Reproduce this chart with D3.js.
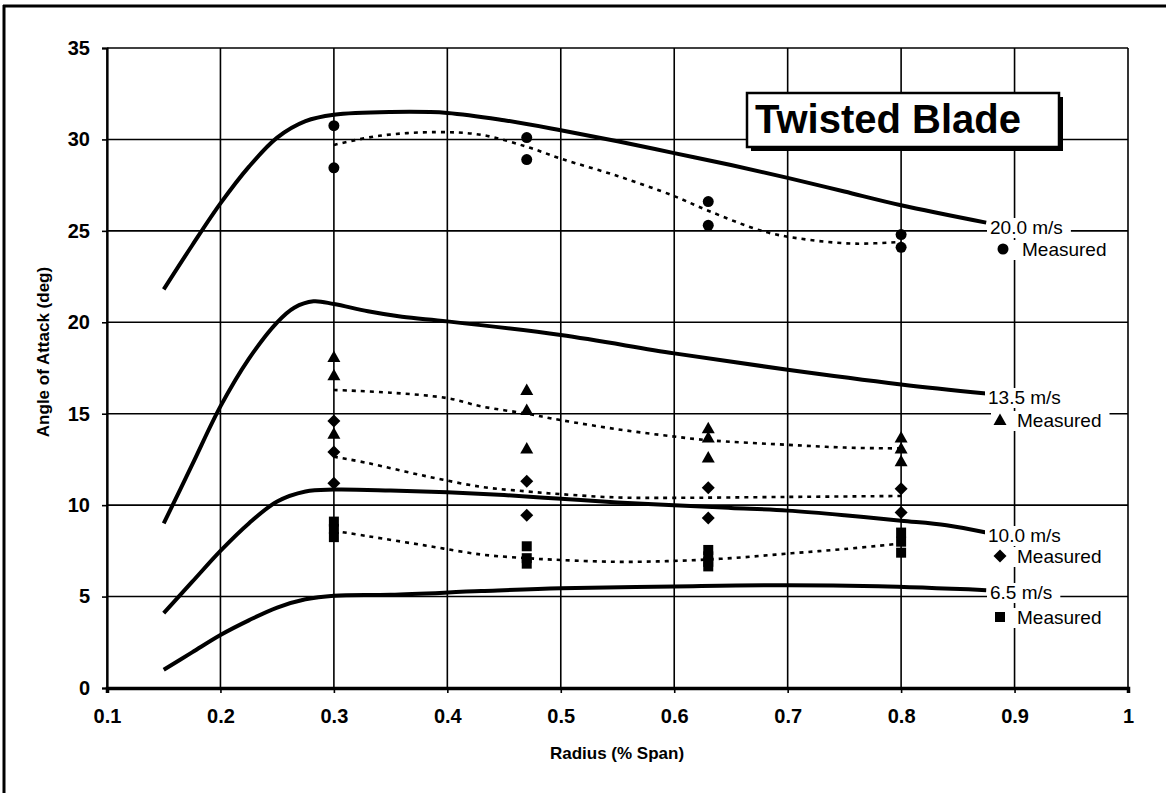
<!DOCTYPE html>
<html><head><meta charset="utf-8">
<script src="https://cdn.jsdelivr.net/npm/d3@7"></script>
<style>
html,body{margin:0;padding:0;background:#fff;}
svg{display:block;font-family:"Liberation Sans",Arial,Helvetica,sans-serif;}
</style></head>
<body>
<svg id="chart" width="1166" height="793"></svg>
<script>
// ---------- data ----------
const xTicks = [0.1,0.2,0.3,0.4,0.5,0.6,0.7,0.8,0.9,1];
const xTickLabels = ["0.1","0.2","0.3","0.4","0.5","0.6","0.7","0.8","0.9","1"];
const yTicks = [0,5,10,15,20,25,30,35];
const yTickLabels = ["0","5","10","15","20","25","30","35"];

const speeds = ["20.0 m/s","13.5 m/s","10.0 m/s","6.5 m/s"];

// predicted (solid) curves: [radius, angle]
const pred20  = [[0.15,21.8],[0.175,24.2],[0.2,26.5],[0.225,28.5],[0.25,30.1],[0.275,31.0],[0.3,31.35],[0.35,31.5],[0.4,31.45],[0.45,31.05],[0.5,30.5],[0.55,29.9],[0.6,29.25],[0.65,28.6],[0.7,27.9],[0.75,27.15],[0.8,26.4],[0.875,25.45]];
const pred135 = [[0.15,9.0],[0.175,12.2],[0.2,15.4],[0.225,18.0],[0.25,20.0],[0.265,20.8],[0.282,21.15],[0.3,21.0],[0.33,20.6],[0.36,20.3],[0.4,20.05],[0.5,19.3],[0.6,18.3],[0.7,17.4],[0.8,16.6],[0.875,16.1]];
const pred10  = [[0.15,4.1],[0.175,5.8],[0.2,7.5],[0.225,9.0],[0.25,10.2],[0.275,10.75],[0.3,10.85],[0.35,10.8],[0.4,10.7],[0.45,10.55],[0.5,10.35],[0.55,10.15],[0.6,10.0],[0.65,9.85],[0.7,9.7],[0.75,9.45],[0.8,9.15],[0.84,8.9],[0.875,8.5]];
const pred65  = [[0.15,1.0],[0.175,1.95],[0.2,2.9],[0.225,3.7],[0.25,4.4],[0.275,4.85],[0.3,5.05],[0.35,5.1],[0.43,5.3],[0.5,5.45],[0.6,5.55],[0.7,5.62],[0.78,5.56],[0.875,5.35]];

// measured-trend (dotted) curves
const fit20  = [[0.3,29.7],[0.34,30.2],[0.39,30.4],[0.43,30.25],[0.47,29.6],[0.5,28.95],[0.55,28.0],[0.6,26.9],[0.63,26.1],[0.68,24.95],[0.72,24.5],[0.76,24.3],[0.8,24.4]];
const fit135 = [[0.3,16.3],[0.35,16.15],[0.4,15.85],[0.43,15.4],[0.47,15.0],[0.5,14.65],[0.55,14.15],[0.6,13.75],[0.63,13.55],[0.7,13.3],[0.75,13.15],[0.8,13.1]];
const fit10  = [[0.3,12.65],[0.33,12.3],[0.38,11.6],[0.43,11.0],[0.47,10.75],[0.5,10.6],[0.55,10.42],[0.6,10.4],[0.7,10.45],[0.8,10.5]];
const fit65  = [[0.3,8.6],[0.33,8.3],[0.38,7.8],[0.43,7.3],[0.47,7.1],[0.5,7.0],[0.55,6.9],[0.6,6.95],[0.65,7.1],[0.7,7.35],[0.75,7.6],[0.8,7.9]];

// measured points
const meas20  = [[0.3,30.75],[0.3,28.45],[0.47,30.1],[0.47,28.9],[0.63,26.6],[0.63,25.3],[0.8,24.8],[0.8,24.1]];
const meas135 = [[0.3,18.1],[0.3,17.1],[0.3,13.9],[0.47,16.3],[0.47,15.2],[0.47,13.1],[0.63,14.2],[0.63,13.7],[0.63,12.6],[0.8,13.7],[0.8,13.1],[0.8,12.4]];
const meas10  = [[0.3,14.6],[0.3,12.9],[0.3,11.2],[0.47,11.3],[0.47,9.45],[0.63,10.95],[0.63,9.3],[0.8,10.9],[0.8,9.6]];
const meas65  = [[0.3,9.1],[0.3,8.7],[0.3,8.25],[0.47,7.75],[0.47,7.1],[0.47,6.8],[0.63,7.55],[0.63,7.2],[0.63,6.9],[0.63,6.65],[0.8,8.5],[0.8,8.0],[0.8,7.4]];

// ---------- layout ----------
const svg = d3.select("#chart");
const x = d3.scaleLinear().domain([0.1,1]).range([107,1128]);
const y = d3.scaleLinear().domain([0,35]).range([688,48]);

// outer frame (left & top)
svg.append("line").attr("x1",4).attr("x2",4).attr("y1",5).attr("y2",793).attr("stroke","#000").attr("stroke-width",3);
svg.append("line").attr("x1",3).attr("x2",1166).attr("y1",6).attr("y2",6).attr("stroke","#000").attr("stroke-width",3);

// gridlines
const grid = svg.append("g");
grid.selectAll(".vg").data(xTicks).join("line")
  .attr("x1",d=>x(d)).attr("x2",d=>x(d)).attr("y1",y(0)).attr("y2",y(35))
  .attr("stroke","#000").attr("stroke-width",1.6);
grid.selectAll(".hg").data(yTicks).join("line")
  .attr("x1",x(0.1)).attr("x2",x(1)).attr("y1",d=>y(d)).attr("y2",d=>y(d))
  .attr("stroke","#000").attr("stroke-width",1.6);

// axes
const yAxis = svg.append("g").attr("transform",`translate(${x(0.1)},0)`)
  .call(d3.axisLeft(y).tickValues(yTicks).tickFormat((d,i)=>yTickLabels[i]).tickSize(5).tickPadding(12));
const xAxis = svg.append("g").attr("transform",`translate(0,${y(0)})`)
  .call(d3.axisBottom(x).tickValues(xTicks).tickFormat((d,i)=>xTickLabels[i]).tickSize(5).tickPadding(16));
[yAxis,xAxis].forEach(a=>{
  a.select(".domain").attr("stroke","#000").attr("stroke-width",2.2);
  a.selectAll(".tick line").attr("stroke","#000").attr("stroke-width",1.6);
  a.selectAll("text").attr("fill","#000").attr("font-size",20).attr("font-weight","bold")
    .attr("font-family","'Liberation Sans',Arial,sans-serif");
});
xAxis.select(".domain").attr("stroke-width",3.5);

// axis titles
svg.append("text").attr("x",617).attr("y",759).attr("text-anchor","middle")
  .attr("font-size",17).attr("font-weight","bold").text("Radius (% Span)");
svg.append("text").attr("transform","translate(49,352) rotate(-90)").attr("text-anchor","middle")
  .attr("font-size",17).attr("font-weight","bold").text("Angle of Attack (deg)");

// curves
const line = d3.line().x(d=>x(d[0])).y(d=>y(d[1])).curve(d3.curveCatmullRom.alpha(0.5));
const plot = svg.append("g");
[fit20,fit135,fit10,fit65].forEach(c=>{
  plot.append("path").attr("d",line(c)).attr("fill","none").attr("stroke","#000")
    .attr("stroke-width",2.6).attr("stroke-dasharray","4,5");
});
[pred20,pred135,pred10,pred65].forEach(c=>{
  plot.append("path").attr("d",line(c)).attr("fill","none").attr("stroke","#000")
    .attr("stroke-width",4).attr("stroke-linecap","butt");
});

// marker shapes
const shapes = {
  circle: "M0,-5.5A5.5,5.5 0 1,1 0,5.5A5.5,5.5 0 1,1 0,-5.5Z",
  triangle: "M0,-6.5L6.5,5L-6.5,5Z",
  diamond: "M0,-6.5L6.5,0L0,6.5L-6.5,0Z",
  square: "M-5,-5H5V5H-5Z"
};
const sets = [[meas20,"circle"],[meas135,"triangle"],[meas10,"diamond"],[meas65,"square"]];
sets.forEach(([pts,s])=>{
  plot.selectAll(null).data(pts).join("path")
    .attr("transform",d=>`translate(${x(d[0])},${y(d[1])})`)
    .attr("d",shapes[s]).attr("fill","#000");
});

// series labels (white background per line)
const labelPos = [
  {sx:990, sy:234, mx:1003, my:249, tx:1022, ty:256, shape:"circle"},
  {sx:988, sy:404, mx:1000, my:420, tx:1017, ty:427, shape:"triangle"},
  {sx:988, sy:542, mx:1000, my:556, tx:1017, ty:563, shape:"diamond"},
  {sx:990, sy:599, mx:1000, my:617, tx:1017, ty:624, shape:"square"}
];
const lab = svg.append("g");
function bgText(xp,yp,str,padL,padR){
  const g = lab.append("g");
  const r = g.append("rect").attr("fill","#fff");
  const t = g.append("text").attr("x",xp).attr("y",yp).attr("font-size",19).attr("fill","#000").text(str);
  const b = t.node().getBBox();
  r.attr("x",b.x-padL).attr("y",b.y+1).attr("width",b.width+padL+padR).attr("height",b.height-1);
}
labelPos.forEach((p,i)=>{
  bgText(p.sx,p.sy,speeds[i],3,8);
  bgText(p.tx,p.ty,"Measured",p.tx-p.mx+9,8);
  lab.append("path").attr("transform",`translate(${p.mx},${p.my})`).attr("d",shapes[p.shape]).attr("fill","#000");
});

// title box
const tb = svg.append("g");
tb.append("rect").attr("x",751).attr("y",97).attr("width",312).attr("height",54).attr("fill","#000");
tb.append("rect").attr("x",747).attr("y",93).attr("width",312).attr("height",54).attr("fill","#fff")
  .attr("stroke","#000").attr("stroke-width",2.5);
tb.append("text").attr("x",755).attr("y",133).attr("font-size",40).attr("font-weight","bold").text("Twisted Blade");
</script>
</body></html>
